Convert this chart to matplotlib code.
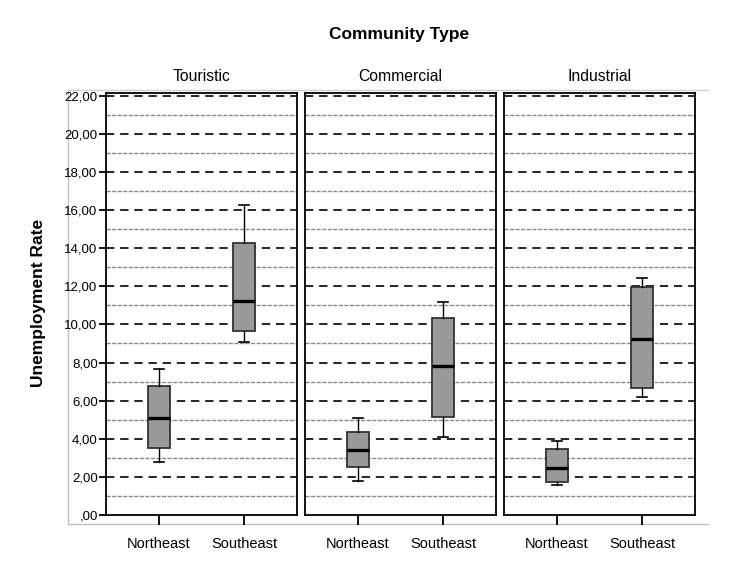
import matplotlib
matplotlib.use("Agg")
import matplotlib.pyplot as plt
from matplotlib.ticker import MultipleLocator, FuncFormatter

plt.rcParams['font.family'] = ['Liberation Sans', 'DejaVu Sans']

# data
community = ['Touristic', 'Commercial', 'Industrial']
regions = ['Northeast', 'Southeast']
whislo = [[2.79, 9.09], [1.77, 4.08], [1.59, 6.19]]
q1 = [[3.54, 9.63], [2.52, 5.13], [1.73, 6.64]]
med = [[5.11, 11.25], [3.42, 7.83], [2.47, 9.23]]
q3 = [[6.78, 14.28], [4.33, 10.32], [3.47, 11.97]]
whishi = [[7.67, 16.29], [5.08, 11.18], [3.87, 12.45]]

W, H = 752, 567
fig = plt.figure(figsize=(W / 100, H / 100), dpi=100)

def fx(px):
    return px / W

def fy(py):
    return 1 - py / H

# light frame round the panels
frame = fig.add_axes([0, 0, 1, 1], zorder=-1)
frame.set_xlim(0, W)
frame.set_ylim(H, 0)
frame.axis('off')
frame.plot([68, 68, 708], [90, 524, 524], color='#c0c0c0', lw=1)
frame.plot([68, 708], [90, 90], color='#d0d0d0', lw=1)

lefts = [106, 305, 504]
pw = 191
top, bottom = 92.7, 515

def fmt(v, p):
    s = ('%.2f' % v).replace('.', ',')
    return s[1:] if s.startswith('0') else s

for i, name in enumerate(community):
    ax = fig.add_axes([fx(lefts[i]), fy(bottom), fx(pw), (bottom - top) / H])
    ax.set_ylim(0, 22.16)
    ax.set_xlim(0.38, 2.62)

    # grid lines
    for v in range(1, 23, 2):
        ax.axhline(v, color='#8a8a8a', lw=1, ls=(0, (3, 1)), zorder=1)
    for v in range(2, 23, 2):
        ax.axhline(v, color='black', lw=1.2, ls=(0, (5, 3.5)), zorder=1)

    stats = []
    for j, r in enumerate(regions):
        stats.append(dict(label=r, whislo=whislo[i][j], q1=q1[i][j], med=med[i][j],
                          q3=q3[i][j], whishi=whishi[i][j], fliers=[]))
    ax.bxp(stats, positions=[1, 2], widths=0.26, patch_artist=True, showfliers=False,
           boxprops=dict(facecolor='#999999', edgecolor='#333333', lw=1.3),
           medianprops=dict(color='black', lw=2.4),
           whiskerprops=dict(color='black', lw=1),
           capprops=dict(color='black', lw=1.2), capwidths=0.12,
           zorder=3)

    for s in ax.spines.values():
        s.set_linewidth(1.3)
        s.set_color('black')

    ax.set_xticks([1, 2])
    ax.set_xticklabels(regions, fontsize=10.5)
    ax.tick_params(axis='x', length=7, width=1.3, pad=9)
    ax.yaxis.set_major_locator(MultipleLocator(2))
    if i == 0:
        ax.yaxis.set_major_formatter(FuncFormatter(fmt))
        ax.tick_params(axis='y', length=5, width=1.3, labelsize=9.5, pad=1)
    else:
        ax.tick_params(axis='y', length=0, labelleft=False)

    fig.text(fx(lefts[i] + pw / 2), fy(76.7), name, ha='center', va='center', fontsize=11.3)

fig.text(fx(399), fy(35), 'Community Type', ha='center', va='center',
         fontsize=12.5, fontweight='bold')
fig.text(fx(39), fy(303), 'Unemployment Rate', ha='center', va='center',
         rotation=90, fontsize=12.5, fontweight='bold')

fig.savefig('out.png', dpi=100)
